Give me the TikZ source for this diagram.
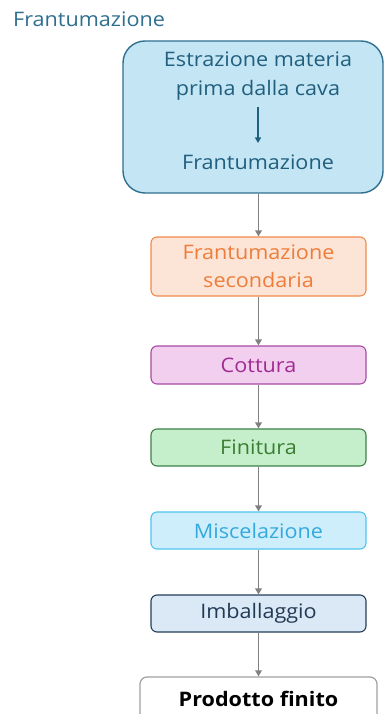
\documentclass[tikz,border=0pt]{standalone}
\usepackage{fontspec}
\setmainfont{Open Sans}[FakeStretch=1.08]
\usetikzlibrary{arrows.meta}
\definecolor{teal1}{HTML}{215F7F}
\definecolor{tealfill}{HTML}{C3E5F4}
\definecolor{tealline}{HTML}{2F6F8F}
\definecolor{orgline}{HTML}{F08A4B}
\definecolor{orgfill}{HTML}{FCE4D6}
\definecolor{orgtext}{HTML}{EE7D3A}
\definecolor{purline}{HTML}{A64AA5}
\definecolor{purfill}{HTML}{F2CEEF}
\definecolor{purtext}{HTML}{A02B93}
\definecolor{grnline}{HTML}{3C8048}
\definecolor{grnfill}{HTML}{C5EFCB}
\definecolor{grntext}{HTML}{3B7D33}
\definecolor{cyaline}{HTML}{4EC3EE}
\definecolor{cyafill}{HTML}{CFEEFB}
\definecolor{cyatext}{HTML}{34A9DE}
\definecolor{navline}{HTML}{233D58}
\definecolor{navfill}{HTML}{DBE9F7}
\definecolor{navtext}{HTML}{223A55}
\definecolor{conn}{HTML}{808080}
\newcommand{\lblfont}{\fontsize{20}{28.5}\selectfont}
\tikzset{
  x=1pt, y=-1pt,
  procbox/.style={draw, line width=1.1pt, rounded corners=6pt, minimum width=215pt,
    align=center, font=\lblfont, inner sep=0pt},
  flow/.style={draw=conn, line width=1.8pt, -{Triangle[length=6pt,width=6.5pt]}},
}
\begin{document}
\begin{tikzpicture}
\useasboundingbox (0,0) rectangle (385,714);
\clip (0,0) rectangle (385,714);
% heading
\node[anchor=west, text=tealline, font=\lblfont, inner sep=0pt] (title) at (13,19) {Frantumazione};
% first stage: extraction and primary crushing
\node[draw=tealline, fill=tealfill, line width=1.4pt, rounded corners=22pt,
      minimum width=260pt, minimum height=152pt, inner sep=0pt] (top) at (253,117) {};
\node[text=teal1, font=\lblfont, align=center, inner sep=0pt] (t1) at (258,76) {Estrazione materia\\prima dalla cava};
\node[text=teal1, font=\lblfont, inner sep=0pt] (t2) at (258,162) {Frantumazione};
\coordinate (ia) at (258,107);
\coordinate (ib) at (258,143);
\draw[teal1, line width=1.3pt, -{Triangle[length=5.5pt,width=6pt]}] (ia) -- (ib);
% process stages
\node[procbox, draw=orgline, fill=orgfill, text=orgtext, minimum height=59pt] (b1) at (258.5,266.5) {Frantumazione\\secondaria};
\node[procbox, draw=purline, fill=purfill, text=purtext, minimum height=38pt] (b2) at (258.5,365) {Cottura};
\node[procbox, draw=grnline, fill=grnfill, text=grntext, minimum height=37pt] (b3) at (258.5,447.5) {Finitura};
\node[procbox, draw=cyaline, fill=cyafill, text=cyatext, minimum height=37pt] (b4) at (258.5,530.5) {Miscelazione};
\node[procbox, draw=navline, fill=navfill, text=navtext, minimum height=37pt] (b5) at (258.5,613.5) {Imballaggio};
\node[draw=conn!75, fill=white, line width=1.2pt, rounded corners=7pt, minimum width=237pt,
      minimum height=60pt, inner sep=0pt] (b6) at (258.5,707) {};
\node[font=\lblfont\bfseries, inner sep=0pt] (b6t) at (258.5,699) {Prodotto finito};
% connectors
\draw[flow] (top.south -| b1.north) -- (b1.north);
\draw[flow] (b1) -- (b2);
\draw[flow] (b2) -- (b3);
\draw[flow] (b3) -- (b4);
\draw[flow] (b4) -- (b5);
\draw[flow] (b5) -- (b6);
\end{tikzpicture}
\end{document}
